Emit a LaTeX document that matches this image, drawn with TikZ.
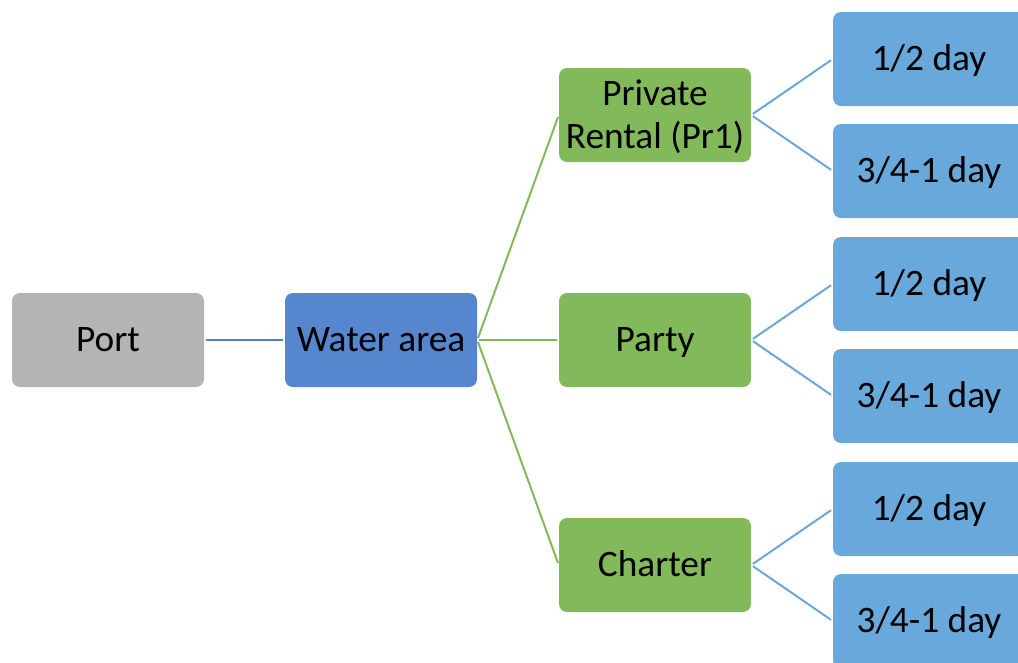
\documentclass[tikz,border=0pt]{standalone}
\usepackage{fontspec}
\setmainfont{Carlito}
\usetikzlibrary{positioning}
\definecolor{portgray}{RGB}{180,180,180}
\definecolor{waterblue}{RGB}{85,134,206}
\definecolor{leafgreen}{RGB}{130,185,90}
\definecolor{skyblue}{RGB}{105,168,218}
\definecolor{linkblue}{RGB}{80,128,200}

\begin{document}
\begin{tikzpicture}[x=0.75pt,y=-0.75pt,
  box/.style={rounded corners=6pt,minimum width=144pt,minimum height=70.5pt,
    inner sep=0pt,align=center,font=\fontsize{28}{32}\selectfont},
  oneline/.style={text height=17.5pt,text depth=0pt},
  twoline/.style={text height=49.5pt,text depth=0pt},
  link/.style={line width=1.5pt,shorten <=1.5pt,shorten >=1.5pt}]
  \useasboundingbox (0,0) rectangle (1018,662);
  \clip (0,0) rectangle (1018,662);
  \node[box,oneline,fill=portgray] (port) at (108,340) {Port};
  \node[box,oneline,fill=waterblue] (water) at (381,340) {Water area};
  \draw[link,linkblue] (port) -- (water);
  % options and their durations
  \foreach \n/\t/\y/\s in {pr/{Private\\Rental (Pr1)}/115/twoline,party/Party/340/oneline,charter/Charter/565/oneline}{
    \node[box,fill=leafgreen,\s] (\n) at (655,\y) {\t};
    \draw[link,leafgreen] (water.east) -- (\n.west);
    \node[box,oneline,fill=skyblue] (\n half) at (929,\y-56) {1/2 day};
    \node[box,oneline,fill=skyblue] (\n full) at (929,\y+56) {3/4-1 day};
    \draw[link,skyblue] (\n.east) -- (\n half.west);
    \draw[link,skyblue] (\n.east) -- (\n full.west);
  }
\end{tikzpicture}
\end{document}
